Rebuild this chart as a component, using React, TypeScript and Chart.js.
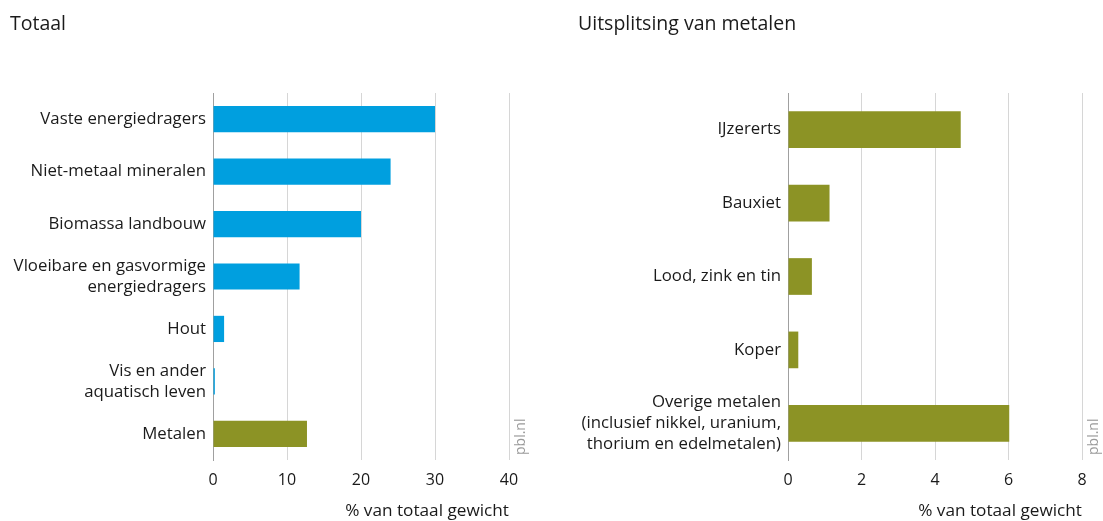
import React, { useEffect, useRef } from "react";
import { Chart, registerables } from "chart.js";

Chart.register(...registerables);

// ---- data ----
const totaalTitle = "Totaal";
const totaalLabels: (string | string[])[] = [
  "Vaste energiedragers",
  "Niet-metaal mineralen",
  "Biomassa landbouw",
  ["Vloeibare en gasvormige", "energiedragers"],
  "Hout",
  ["Vis en ander", "aquatisch leven"],
  "Metalen",
];
const totaalValues = [30, 24, 20, 11.7, 1.5, 0.25, 12.7];
const totaalKinds = ["b", "b", "b", "b", "b", "b", "m"];
const totaalMax = 40;
const totaalStep = 10;

const metalenTitle = "Uitsplitsing van metalen";
const metalenLabels: (string | string[])[] = [
  "IJzererts",
  "Bauxiet",
  "Lood, zink en tin",
  "Koper",
  ["Overige metalen", "(inclusief nikkel, uranium,", "thorium en edelmetalen)"],
];
const metalenValues = [4.7, 1.13, 0.65, 0.28, 6.02];
const metalenMax = 8;
const metalenStep = 2;

const axisTitle = "% van totaal gewicht";
const sourceText = "pbl.nl";

// ---- styles ----
const BLUE = "#009fdf";
const OLIVE = "#8c9325";
const FONT = "'Open Sans', 'DejaVu Sans', sans-serif";
const TEXT = "#1a1a1a";

const sourcePlugin = {
  id: "sourceText",
  afterDraw(chart: any) {
    const { ctx, chartArea } = chart;
    ctx.save();
    ctx.translate(chartArea.right + 12, chartArea.bottom - 5);
    ctx.rotate(-Math.PI / 2);
    ctx.font = `14px ${FONT}`;
    ctx.fillStyle = "#9a9a9a";
    ctx.textAlign = "left";
    ctx.textBaseline = "middle";
    ctx.fillText(sourceText, 0, 0);
    ctx.restore();
  },
};

function makeConfig(
  title: string,
  labels: (string | string[])[],
  values: number[],
  colors: string[],
  max: number,
  step: number,
  yWidth: number,
  padRight: number
): any {
  return {
    type: "bar",
    data: {
      labels,
      datasets: [
        {
          data: values,
          backgroundColor: colors,
          borderWidth: 0,
          categoryPercentage: 1,
          barPercentage: 0.5,
        },
      ],
    },
    options: {
      indexAxis: "y",
      animation: false,
      responsive: false,
      maintainAspectRatio: false,
      layout: { padding: { left: 0, right: padRight, top: 0, bottom: 0 } },
      plugins: {
        legend: { display: false },
        tooltip: { enabled: false },
        title: {
          display: true,
          text: title,
          align: "start",
          color: TEXT,
          font: { family: FONT, size: 19.5, weight: "normal" },
          padding: { top: 12.3, bottom: 57.3 },
        },
      },
      scales: {
        x: {
          min: 0,
          max,
          ticks: {
            stepSize: step,
            color: TEXT,
            font: { family: FONT, size: 16 },
            padding: 11,
          },
          grid: { color: "#d6d6d6", lineWidth: 1, drawTicks: false },
          border: { display: false },
          title: {
            display: true,
            text: axisTitle,
            align: "end",
            color: TEXT,
            font: { family: FONT, size: 17.2 },
            padding: { top: 4, bottom: 0 },
          },
          afterFit(scale: any) {
            scale.height = 61;
          },
        },
        y: {
          ticks: {
            color: TEXT,
            font: { family: FONT, size: 16.8, lineHeight: 1.25 },
            padding: 7,
          },
          grid: { display: false, drawTicks: false },
          border: { display: true, color: "#a0a0a0", width: 1 },
          afterFit(scale: any) {
            scale.width = yWidth;
          },
        },
      },
    },
    plugins: [sourcePlugin],
  };
}

function ChartCanvas({ config, style, width, height }: any) {
  const ref = useRef<HTMLCanvasElement | null>(null);
  useEffect(() => {
    if (!ref.current) return;
    const chart = new Chart(ref.current, config);
    return () => chart.destroy();
  }, [config]);
  return <canvas ref={ref} width={width} height={height} style={{ position: "absolute", ...style }} />;
}

const leftConfig = makeConfig(
  totaalTitle,
  totaalLabels,
  totaalValues,
  totaalKinds.map((k) => (k === "m" ? OLIVE : BLUE)),
  totaalMax,
  totaalStep,
  203,
  41
);
const rightConfig = makeConfig(
  metalenTitle,
  metalenLabels,
  metalenValues,
  metalenValues.map(() => OLIVE),
  metalenMax,
  metalenStep,
  210,
  21
);

export default function App() {
  return (
    <div style={{ position: "fixed", left: 0, top: 0, width: 1103, height: 521, background: "#fff" }}>
      <ChartCanvas config={leftConfig} width={540} height={521} style={{ left: 10, top: 0, width: 540, height: 521 }} />
      <ChartCanvas config={rightConfig} width={525} height={521} style={{ left: 578, top: 0, width: 525, height: 521 }} />
    </div>
  );
}
